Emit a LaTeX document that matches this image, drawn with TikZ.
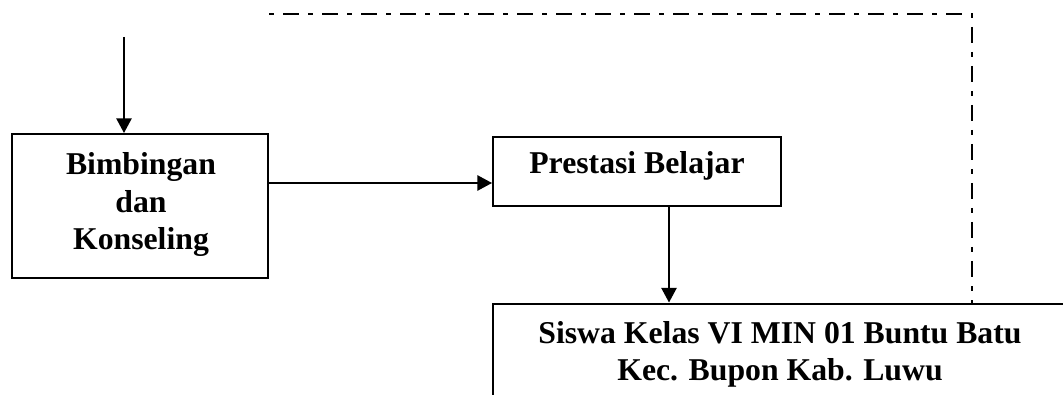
\documentclass[tikz,border=0pt]{standalone}
\usepackage{fontspec}
\setmainfont{Liberation Serif}
\usetikzlibrary{arrows.meta,calc}
\begin{document}
\begin{tikzpicture}[x=0.75pt,y=-0.75pt,
  box/.style={draw=black,line width=1.5pt,inner sep=0pt,fill=none},
  lbl/.style={font=\bfseries\fontsize{23.8}{27.75}\selectfont,align=center,anchor=base,inner sep=0pt},
  arr/.style={line width=1.2pt,-{Triangle[length=11pt,width=11.5pt]}},
  dashdot/.style={line width=1.4pt,dash pattern=on 3.75pt off 6.75pt on 12pt off 6.75pt}]
\clip (0,0) rectangle (1063,395);
\useasboundingbox (0,0) rectangle (1063,395);
% boxes
\node[box,minimum width=192pt,minimum height=108pt] (bk) at (140,206) {};
\node[box,minimum width=216pt,minimum height=51.75pt] (pb) at (637,171.5) {};
\node[box,anchor=north west,minimum width=432pt,minimum height=112.5pt] (sw) at (492,302.5) {};
% texts
\node[lbl] (bkt1) at (141,175) {Bimbingan};
\node[lbl] (bkt2) at (141,213) {dan};
\node[lbl] (bkt3) at (141,250) {Konseling};
\node[lbl] (pbt) at (637,174) {Prestasi Belajar};
\node[lbl] (swt1) at (780,343) {Siswa Kelas VI MIN 01 Buntu Batu};
\node[lbl] (swt2) at (780,380) {Kec. Bupon Kab. Luwu};
% helper coordinates
\coordinate (top) at (124,37);
\coordinate (h) at (380,183);
\coordinate (v) at (669,250);
\coordinate (corner) at (972,14);
% connectors
\draw[arr] (top) -- (top |- bk.north);
\draw[arr] (bk.east |- h) -- (pb.west |- h);
\draw[arr] (pb.south -| v) -- (sw.north -| v);
\draw[dashdot] (bk.east |- corner) -- (corner) -- (corner |- sw.north);
\end{tikzpicture}
\end{document}
